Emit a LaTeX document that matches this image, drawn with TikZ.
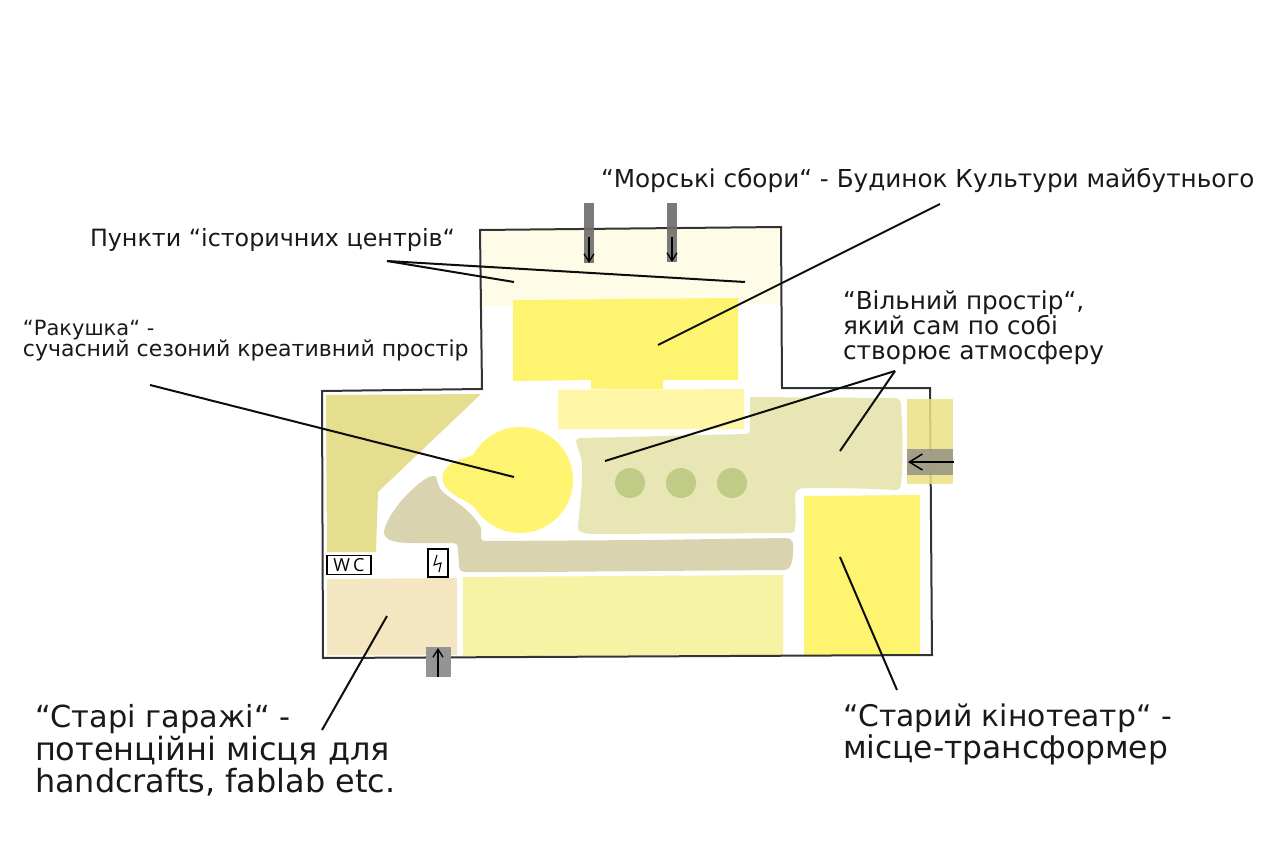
\documentclass[tikz,border=0pt]{standalone}
\usepackage{fontspec}
\setmainfont{DejaVu Sans}
\newfontfamily\wcfont{Open Sans}
\usetikzlibrary{arrows.meta}
\tikzset{
  lab/.style={inner sep=0pt,outer sep=0pt,anchor=base west,text=black!90,align=left},
  lead/.style={draw=black!95,line width=2pt},
  outl/.style={draw=black!80,line width=2pt,line join=miter},
  flow/.style={draw=black,line width=1.4pt,-{Straight Barb[length=8pt,width=10pt,line width=1.3pt]}},
  flowbig/.style={draw=black,line width=1.5pt,-{Straight Barb[length=13pt,width=16pt,line width=1.5pt]}},
  tag/.style={draw=black,line width=1.3pt,fill=white,inner sep=0pt}
}
\definecolor{pale}{HTML}{FEFCE6}
\definecolor{ylw}{HTML}{FFF470}
\definecolor{ylwb}{HTML}{FFF6A8}
\definecolor{olive}{HTML}{E4DE8E}
\definecolor{taupe}{HTML}{D9D3AF}
\definecolor{beige}{HTML}{F4E6C0}
\definecolor{palegr}{HTML}{F7F3A4}
\definecolor{sage}{HTML}{E8E6B4}
\definecolor{dotg}{HTML}{C0CB86}
\definecolor{doory}{HTML}{ECE085}
\definecolor{gband}{HTML}{9D9B86}
\begin{document}
\begin{tikzpicture}[x=1pt,y=-1pt]
\useasboundingbox (0,0) rectangle (1280,853);
% pale top zone
\fill[pale] (482,229) -- (779,228) -- (779,304) -- (482,306) -- cycle;
% main yellow block
\fill[ylw] (513,300) -- (738,298) -- (738,380) -- (663,380) -- (663,389) -- (591,389) -- (591,380) -- (513,381) -- cycle;
\fill[ylwb] (558,390) -- (744,389) -- (744,429) -- (558,429) -- cycle;
% olive corner
\fill[olive] (326,395) -- (481,394) -- (378,492) -- (376,552) -- (327,552) -- cycle;
% shell
\fill[ylw] (520,480) circle[radius=53];
\fill[ylw] (478,452) .. controls (470,458) and (460,458) .. (452,463) .. controls (444,468) and (441,476) .. (443,482)
  .. controls (446,490) and (455,496) .. (465,501) .. controls (472,505) and (478,510) .. (485,515) -- cycle;
% taupe
\fill[taupe] (435,476) .. controls (438,477) and (436,485) .. (443,492) .. controls (452,500) and (472,510) .. (481,528)
  -- (481,538) .. controls (481,540) and (483,541) .. (485,541) -- (650,540) -- (786,538)
  .. controls (792,538) and (794,542) .. (793,552) .. controls (793,562) and (790,570) .. (785,570)
  -- (650,571) -- (540,572) -- (466,572) .. controls (461,572) and (459,570) .. (459,566)
  -- (458,549) .. controls (458,544) and (456,543) .. (452,543) -- (410,543)
  .. controls (398,543) and (385,541) .. (384,533) .. controls (384,525) and (392,512) .. (402,500)
  .. controls (412,489) and (428,474) .. (435,476) -- cycle;
% beige and pale blocks
\fill[beige] (327,579) -- (457,578) -- (457,655) -- (327,655) -- cycle;
\fill[palegr] (463,577) -- (783,575) -- (783,655) -- (463,656) -- cycle;
% free space
\fill[sage] (750,397) -- (893,398) .. controls (899,398) and (901,400) .. (901,405)
  .. controls (903,430) and (903,465) .. (901,484) .. controls (901,488) and (899,490) .. (895,490)
  .. controls (860,488) and (830,488) .. (805,488) .. controls (797,488) and (795,492) .. (795,497)
  .. controls (796,510) and (796,520) .. (795,528) .. controls (795,532) and (793,533) .. (790,533)
  -- (590,534) .. controls (582,533) and (577,532) .. (578,526)
  .. controls (580,505) and (583,480) .. (582,463) .. controls (581,455) and (577,448) .. (576,441)
  .. controls (576,439) and (578,438) .. (582,438) -- (745,434) .. controls (749,434) and (750,432) .. (750,428) -- cycle;
\fill[dotg] (630,483) circle[radius=15];
\fill[dotg] (681,483) circle[radius=15];
\fill[dotg] (732,483) circle[radius=15];
% old cinema
\fill[ylw] (804,496) -- (920,495) -- (920,655) -- (804,656) -- cycle;
% outline
\draw[outl] (480,230) -- (781,227) -- (782,388) -- (930,388) -- (932,655) -- (323,658) -- (322,391) -- (482,389) -- cycle;
% entrances
\fill[gray!85!black,opacity=.9] (584,203) rectangle (594,263);
\fill[gray!85!black,opacity=.9] (667,203) rectangle (677,262);
\fill[black!42] (426,647) rectangle (451,677);
\fill[doory,fill opacity=.85] (907,399) rectangle (953,484);
\fill[gband,fill opacity=.95] (907,449) rectangle (953,475);
\coordinate (a1s) at (589,237); \coordinate (a1e) at (589,263);
\coordinate (a2s) at (672,237); \coordinate (a2e) at (672,262);
\coordinate (a3s) at (438,677); \coordinate (a3e) at (438,648);
\coordinate (a4s) at (954,462); \coordinate (a4e) at (908,462);
\draw[flow] (a1s) -- (a1e);
\draw[flow] (a2s) -- (a2e);
\draw[flow] (a3s) -- (a3e);
\draw[flowbig] (a4s) -- (a4e);
% small tags
\node[tag,minimum width=44pt,minimum height=19pt] (wc) at (349,565) {\wcfont\fontsize{18}{18}\selectfont W\,C};
\node[tag,minimum width=20pt,minimum height=28pt] (power) at (438,563) {};
\coordinate (z1) at (437,555); \coordinate (z2) at (434,565); \coordinate (z3) at (441,563); \coordinate (z4) at (439,572);
\draw[black,line width=1.1pt] (z1) -- (z2) -- (z3) -- (z4);
% leader ends
\coordinate (m0) at (940,204); \coordinate (m1) at (658,345);
\coordinate (p0) at (387,261); \coordinate (p1) at (514,282); \coordinate (p2) at (745,282);
\coordinate (r0) at (150,385); \coordinate (r1) at (514,477);
\coordinate (v0) at (895,371); \coordinate (v1) at (605,461); \coordinate (v2) at (840,451);
\coordinate (k0) at (897,690); \coordinate (k1) at (840,557);
\coordinate (g0) at (322,730); \coordinate (g1) at (387,616);
\draw[lead] (m0) -- (m1);
\draw[lead] (p0) -- (p1);
\draw[lead] (p0) -- (p2);
\draw[lead] (r0) -- (r1);
\draw[lead] (v0) -- (v1);
\draw[lead] (v0) -- (v2);
\draw[lead] (k0) -- (k1);
\draw[lead] (g0) -- (g1);
% labels
\node[lab] (lm) at (601,188) {\fontsize{24.7}{24}\selectfont “Морські сбори“ - Будинок Культури майбутнього};
\node[lab] (lp) at (90,247) {\fontsize{23.8}{24}\selectfont Пункти “історичних центрів“};
\node[lab] (lr1) at (23,335) {\fontsize{21}{21}\selectfont “Ракушка“ -};
\node[lab] (lr2) at (23,356) {\fontsize{22}{22}\selectfont сучасний сезоний креативний простір};
\node[lab] (lv1) at (843,309) {\fontsize{24.7}{24}\selectfont “Вільний простір“,};
\node[lab] (lv2) at (843,334) {\fontsize{24.7}{24}\selectfont який сам по собі};
\node[lab] (lv3) at (843,359) {\fontsize{24.9}{24}\selectfont створює атмосферу};
\node[lab] (lg1) at (35,727) {\fontsize{30.4}{30}\selectfont “Старі гаражі“ -};
\node[lab] (lg2) at (35,760) {\fontsize{32}{30}\selectfont потенційні місця для};
\node[lab] (lg3) at (35,792) {\fontsize{31.9}{30}\selectfont handcrafts, fablab etc.};
\node[lab] (lk1) at (843,726) {\fontsize{29.8}{30}\selectfont “Старий кінотеатр“ -};
\node[lab] (lk2) at (843,758) {\fontsize{31.3}{30}\selectfont місце-трансформер};
\end{tikzpicture}
\end{document}
